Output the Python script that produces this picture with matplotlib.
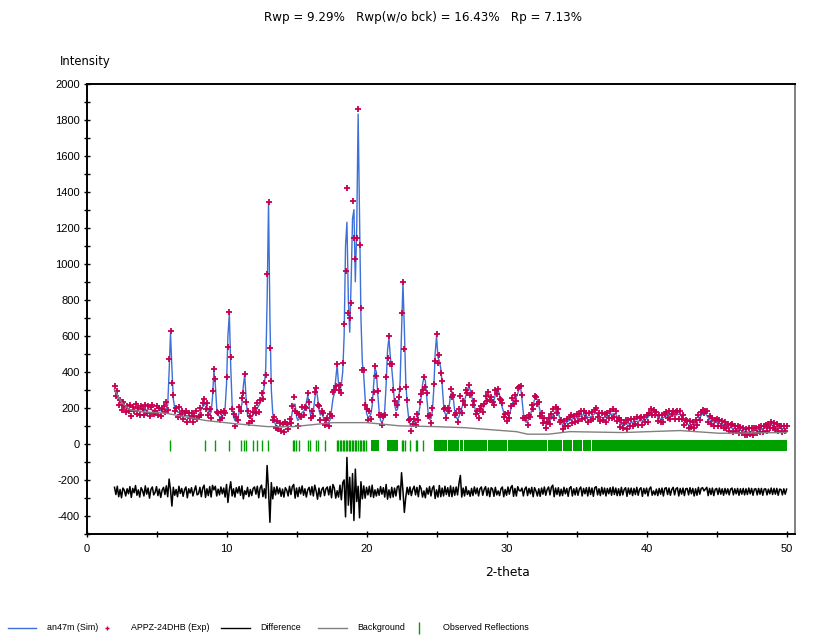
import numpy as np
import matplotlib.pyplot as plt
from matplotlib.lines import Line2D
from matplotlib.ticker import MultipleLocator

plt.rcParams['font.family'] = 'DejaVu Sans'
plt.rcParams['font.size'] = 8.5
plt.rcParams['axes.unicode_minus'] = False

# 2-theta grid of the pattern (0.1 deg step)
two_theta = np.round(np.arange(2.0, 50.05, 0.1), 1)

# calculated profile (Sim), counts
calc_02_10 = [300, 282, 262, 246, 232, 220, 211, 204, 199, 195,
              192, 190, 189, 188, 188, 187, 187, 188, 190, 190,
              188, 186, 186, 188, 190, 192, 191, 188, 186, 185,
              185, 184, 184, 185, 186, 188, 192, 198, 215, 400,
              615, 420, 250, 200, 185, 178, 174, 170, 166, 162,
              160, 158, 156, 155, 153, 150, 148, 148, 150, 155,
              162, 175, 190, 205, 215, 225, 210, 180, 165, 175,
              260, 405, 330, 200, 160, 150, 150, 155, 165, 200]
calc_10_20 = [330, 600, 720, 430, 220, 150, 130, 125, 140, 175,
              200, 220, 320, 385, 250, 160, 145, 145, 150, 160,
              172, 185, 198, 210, 225, 245, 275, 320, 420, 800,
              1340, 700, 300, 170, 125, 108, 100, 96, 95, 95,
              95, 96, 98, 100, 104, 110, 130, 180, 220, 220,
              150, 130, 140, 160, 175, 180, 190, 230, 270, 210,
              160, 155, 180, 250, 305, 260, 190, 160, 170, 150,
              128, 118, 115, 118, 135, 190, 250, 280, 360, 440,
              330, 290, 330, 400, 600, 1100, 1230, 800, 620, 900,
              1250, 1300, 900, 1200, 1830, 1250, 700, 450, 380, 250]
calc_20_30 = [170, 150, 150, 165, 210, 320, 420, 400, 280, 180,
              130, 120, 135, 190, 330, 520, 590, 480, 420, 330,
              220, 185, 190, 230, 350, 620, 895, 640, 350, 220,
              150, 110, 95, 100, 110, 125, 140, 160, 200, 260,
              330, 370, 350, 260, 170, 135, 140, 180, 300, 500,
              600, 480, 460, 420, 330, 220, 170, 160, 175, 210,
              270, 290, 250, 180, 145, 140, 150, 175, 200, 220,
              240, 270, 300, 320, 300, 265, 240, 210, 180, 165,
              165, 175, 185, 195, 210, 240, 260, 270, 270, 240,
              220, 240, 275, 295, 298, 270, 230, 200, 175, 155]
calc_30_40 = [145, 145, 160, 190, 220, 245, 255, 260, 280, 310,
              315, 250, 170, 130, 120, 125, 140, 160, 190, 220,
              245, 255, 245, 215, 180, 150, 128, 115, 110, 112,
              120, 130, 140, 155, 170, 182, 185, 170, 145, 120,
              105, 105, 112, 120, 128, 130, 135, 138, 140, 142,
              145, 148, 150, 155, 160, 162, 158, 152, 148, 146,
              150, 155, 162, 168, 170, 165, 158, 150, 147, 145,
              146, 148, 152, 158, 162, 165, 166, 168, 165, 150,
              130, 115, 108, 105, 105, 108, 110, 112, 115, 118,
              120, 122, 125, 125, 126, 128, 128, 130, 132, 135]
calc_40_50 = [140, 148, 158, 170, 182, 186, 178, 162, 148, 140,
              138, 140, 145, 150, 155, 160, 162, 158, 155, 156,
              158, 160, 162, 164, 162, 152, 140, 128, 118, 110,
              106, 104, 104, 106, 110, 116, 124, 134, 146, 158,
              166, 170, 168, 158, 146, 135, 128, 124, 122, 120,
              118, 116, 114, 112, 110, 108, 104, 100, 96, 92,
              90, 88, 86, 84, 82, 80, 78, 76, 74, 72,
              70, 68, 66, 66, 66, 68, 70, 72, 74, 76,
              78, 80, 82, 84, 86, 88, 90, 94, 100, 104,
              104, 100, 96, 92, 90, 88, 86, 85, 84, 84,
              85]

# observed minus calculated, counts
resid_02_10 = [24, -16, 30, -28, 12, -34, 20, 8, -24, 16,
               -12, 28, -32, 18, -6, 34, -20, 10, -30, 22,
               6, -24, 32, -14, 20, -36, 12, 26, -18, -4,
               28, -22, 14, -32, 8, 24, -16, 32, -28, 70,
               10, -80, 24, -20, 12, -28, 30, -10, 18, -26,
               10, 26, -34, 16, -8, 22, -24, 6, 32, -18,
               -12, 24, -28, 20, 36, -32, 16, -22, 28, -30,
               35, 10, 30, -24, 14, -18, 26, -12, 20, -30]
resid_10_20 = [40, -60, 10, 55, -24, 16, -30, 22, -8, 28,
               -20, 32, -40, 5, -16, 24, -28, 12, -22, 18,
               26, -14, 30, -34, 20, 36, -28, 16, -36, 145,
               5, -170, 50, -40, 24, -18, 28, -12, 20, -26,
               14, -30, 22, 8, -24, 30, -16, 28, 40, -36,
               20, -28, 24, -12, 32, -20, 16, -30, 10, 24,
               -18, 28, -24, 36, 4, -42, 20, -28, 12, 24,
               -22, 16, 26, -18, 30, -34, 40, 20, -36, 5,
               -30, 36, -45, 50, 65, -140, 190, -75, 80, -120,
               100, -160, 125, -55, 30, -145, 55, -40, 32, -36]
resid_20_30 = [24, -18, 30, -28, 36, -32, 10, -24, 16, -20,
               28, -14, 22, -30, 40, -42, 10, -34, 24, -30,
               20, -24, 28, 32, -45, 105, 5, -115, -32, 24,
               -16, 26, -22, 12, 30, -18, 24, -28, 34, 16,
               -30, 4, -34, 20, -14, 28, -24, 18, 32, -38,
               10, -30, 34, -28, 20, -24, 30, -16, 22, -26,
               32, -28, 24, -20, 26, -18, 45, 90, -30, 20,
               -24, 28, -16, 6, -26, 18, -22, 26, -12, 20,
               -24, 16, 26, -20, 12, 28, -22, 20, -28, 22,
               14, -26, 24, -18, 4, -22, 16, 26, -28, 12]
resid_30_40 = [-20, 26, -14, 22, 34, -26, 18, -24, 28, 6,
               4, 20, -24, 14, 26, -22, 18, -12, 24, -28,
               22, 4, -24, 16, -26, 20, -14, 26, -20, 12,
               26, -18, 24, 36, -28, 20, -16, 22, -24, 14,
               -22, 24, -12, 18, -26, 20, 28, -24, 16, -18,
               22, -20, 14, 26, -24, 18, -12, 22, -24, 24,
               -16, 20, -26, 22, 28, -18, 16, -22, 24, -14,
               20, -24, 18, -12, 22, -20, 26, -16, 20, -22,
               16, -22, 24, -18, 12, 22, -26, 20, -14, 20,
               -22, 18, -16, 24, -20, 14, 22, -26, 18, -12]
resid_40_50 = [20, -24, 16, 26, -20, 4, -18, 14, -22, 18,
               -14, 20, -24, 18, 22, -16, 20, -20, 12, 24,
               -18, 16, 22, -24, 18, -14, 20, -22, 16, 18,
               -18, 22, -12, 18, -24, 16, -20, 24, -14, 18,
               22, 4, 14, 24, -22, 18, -16, 20, -22, 12,
               18, -16, 20, -14, 16, -20, 18, -12, 16, -18,
               14, 20, -18, 16, -12, 18, -20, 16, -14, 18,
               -18, 16, -16, 20, -12, 18, -20, 14, 16, -18,
               18, -14, 18, -20, 14, 16, -18, 14, -12, 20,
               -16, 18, -14, 18, -20, 14, 12, -18, 16, -14,
               14]
diff_offset = -265

# refined background
bg_theta = [2.0, 2.5, 3.1, 4.0, 5.7, 6.9, 8.5, 10.5, 12.9, 14.8, 17.6, 20.0,
            22.4, 24.8, 27.0, 29.0, 30.7, 31.5, 33.0, 34.5, 38.3, 42.4, 45.2, 50.0]
bg_counts = [300, 230, 189, 178, 170, 152, 130, 113, 96, 96, 118, 118,
             100, 96, 90, 78, 68, 54, 54, 68, 63, 74, 59, 63]

# reflection positions (single ticks) and overlapping groups (start, end)
refl_pos = [5.97, 8.46, 9.18, 10.2, 11.05, 11.22, 11.42, 11.9, 12.2, 12.55,
            12.99, 14.77, 14.85, 14.93, 15.2, 15.8, 15.95, 16.38, 16.56, 17.06,
            17.88, 17.98, 18.1, 18.2, 18.3, 18.42, 18.52, 18.62, 18.75, 18.85,
            18.95, 19.05, 19.15, 19.28, 19.38, 19.5, 19.6, 19.72, 19.85, 19.95,
            22.5, 22.6, 22.75, 23.1, 23.5, 23.6, 24.05]
refl_groups = [(20.35, 20.9), (21.45, 22.25), (24.85, 25.75), (25.8, 26.6),
               (26.66, 26.9), (26.95, 28.16), (28.2, 28.63), (28.68, 29.0),
               (29.04, 30.06), (30.1, 31.73), (31.78, 32.9), (32.95, 33.97),
               (34.02, 34.68), (34.73, 35.42), (35.47, 36.06), (36.11, 50.0)]
refl_lo, refl_hi = -42, 22

calc = np.concatenate([calc_02_10, calc_10_20, calc_20_30, calc_30_40, calc_40_50])
resid = np.concatenate([resid_02_10, resid_10_20, resid_20_30, resid_30_40, resid_40_50])
obs = calc + resid
diff = resid + diff_offset

c_sim = '#3c6fd8'
c_exp = '#c6004f'
c_bg = '#808080'
c_refl = '#00a000'

fig = plt.figure(figsize=(8.31, 6.38), dpi=100)
ax = fig.add_axes([86.5 / 831, 1 - 534 / 638, (795 - 86.5) / 831, (534 - 83.5) / 638])

ax.plot(two_theta, calc, color=c_sim, lw=1.0, zorder=2)
ax.plot(two_theta, obs, ls='none', marker='+', ms=5, mew=1.3, color=c_exp, zorder=3)
ax.plot(bg_theta, bg_counts, color=c_bg, lw=1.0, zorder=4)
ax.plot(two_theta, diff, color='black', lw=1.1, zorder=2)
ax.vlines(refl_pos, refl_lo, refl_hi, color=c_refl, lw=1.0)
ax.broken_barh([(a, b - a) for a, b in refl_groups], (refl_lo, refl_hi - refl_lo),
               color=c_refl, lw=0)

ax.set_xlim(0, 50.6)
ax.set_ylim(-500, 2000)
ax.xaxis.set_major_locator(MultipleLocator(10))
ax.xaxis.set_minor_locator(MultipleLocator(5))
ax.yaxis.set_major_locator(MultipleLocator(200))
ax.yaxis.set_minor_locator(MultipleLocator(100))
ax.tick_params(which='both', direction='inout', length=4.5, width=1.0, color='black')
ax.tick_params(axis='x', pad=5)
ax.tick_params(axis='y', pad=2.5)
for lab in ax.get_xticklabels() + ax.get_yticklabels():
    lab.set_family(['Liberation Sans', 'DejaVu Sans'])
    lab.set_fontsize(8)

for side in ['left', 'bottom', 'top']:
    ax.spines[side].set_linewidth(1.4)
    ax.spines[side].set_color('black')
ax.spines['right'].set_color(c_bg)
ax.spines['right'].set_linewidth(1.4)

fig.text(423.5 / 831, 1 - 17 / 638, 'Rwp = 9.29%   Rwp(w/o bck) = 16.43%   Rp = 7.13%',
         ha='center', va='center', fontsize=8.6)
fig.text(60 / 831, 1 - 62 / 638, 'Intensity', ha='left', va='center', fontsize=8.4)
fig.text(507 / 831, 1 - 573 / 638, '2-theta', ha='center', va='center', fontsize=8.8)

# legend row along the bottom edge
ly = 1 - 628 / 638
W = 831
narrow = ['Liberation Sans', 'DejaVu Sans']
items = [
    (Line2D([8 / W, 36 / W], [ly, ly], color=c_sim, lw=1.0), 47, 'an47m (Sim)'),
    (Line2D([107 / W], [ly], ls='none', marker='+', ms=3, mew=1.0, color=c_exp), 131, 'APPZ-24DHB (Exp)'),
    (Line2D([221 / W, 250 / W], [ly, ly], color='black', lw=1.0), 260, 'Difference'),
    (Line2D([318 / W, 347 / W], [ly, ly], color=c_bg, lw=1.0), 357, 'Background'),
    (Line2D([419 / W], [ly], ls='none', marker='|', ms=8, mew=1.0, color=c_refl), 443, 'Observed Reflections'),
]
for handle, tx, label in items:
    handle.set_transform(fig.transFigure)
    fig.add_artist(handle)
    fig.text(tx / W, ly, label, ha='left', va='center', family=narrow, fontsize=6.4)

fig.savefig('out.png', dpi=100)
